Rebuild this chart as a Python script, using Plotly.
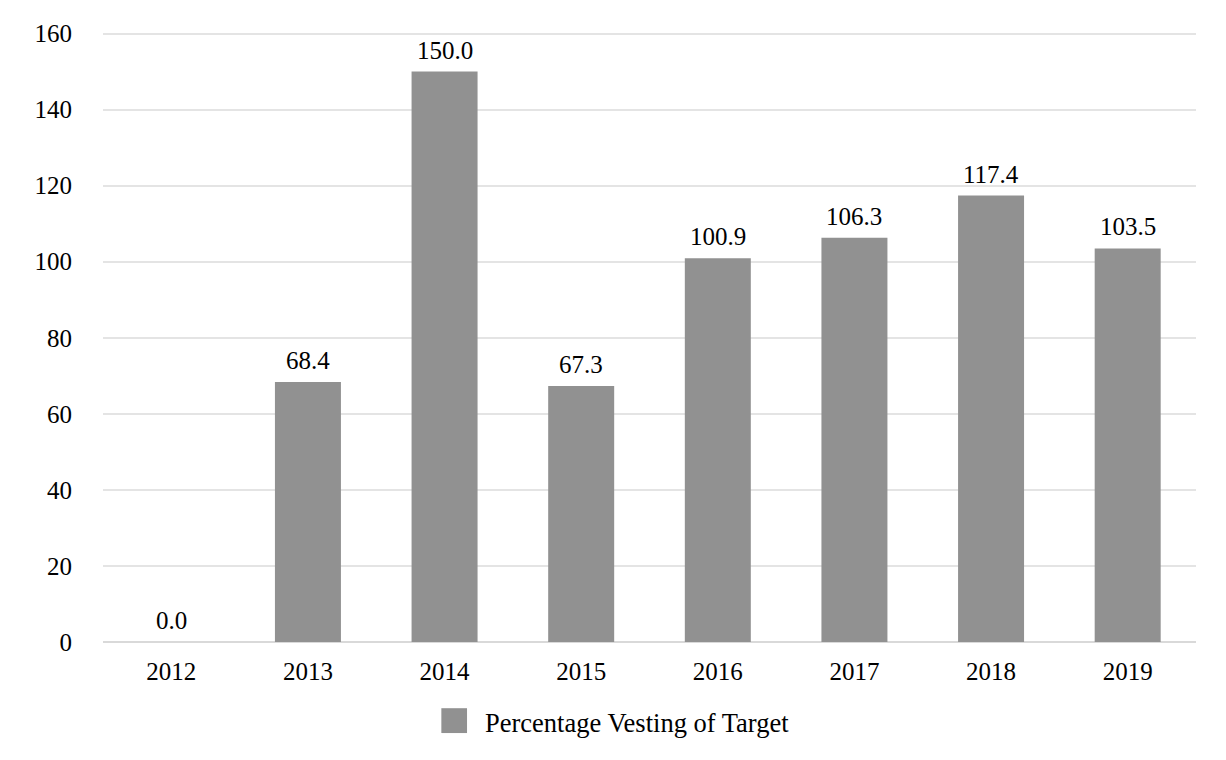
import plotly.graph_objects as go

years = ["2012", "2013", "2014", "2015", "2016", "2017", "2018", "2019"]
values = [0.0, 68.4, 150.0, 67.3, 100.9, 106.3, 117.4, 103.5]
labels = ["0.0", "68.4", "150.0", "67.3", "100.9", "106.3", "117.4", "103.5"]
series_name = "Percentage Vesting of Target"
y_ticks = [0, 20, 40, 60, 80, 100, 120, 140, 160]

FONT = "Liberation Serif, Times New Roman, serif"
BAR = "#919191"
FS = 25
LEG_FS = 26.5

W, H = 1226, 760
L, R, T, B = 94.5, 38, 20, 126.3
PW = W - L - R
PH = H - T - B


def px_x(px):
    return (px - L) / PW


def px_y(py):
    return (H - B - py) / PH


fig = go.Figure()
fig.add_trace(go.Bar(
    x=years, y=values,
    marker=dict(color=BAR, line=dict(width=0)),
    showlegend=False, name=series_name,
))

annotations = []
for i, (v, lab) in enumerate(zip(values, labels)):
    annotations.append(dict(
        x=i, y=v, xref="x", yref="y", text=lab, showarrow=False,
        yanchor="middle", xanchor="center", yshift=21.5,
        font=dict(family=FONT, size=FS, color="#000000"),
    ))

# manual legend (large square swatch)
annotations.append(dict(
    x=px_x(475), y=px_y(715), xref="paper", yref="paper",
    text=series_name, showarrow=False, xanchor="left", yanchor="middle",
    font=dict(family=FONT, size=LEG_FS, color="#000000"),
))
shapes = [dict(
    type="rect", xref="paper", yref="paper",
    x0=px_x(433), x1=px_x(458.7), y0=px_y(725.3), y1=px_y(700.3),
    fillcolor=BAR, line=dict(width=0),
)]

fig.update_layout(
    width=W, height=H,
    margin=dict(l=L, r=R, t=T, b=B, pad=0),
    paper_bgcolor="white", plot_bgcolor="white",
    font=dict(family=FONT, size=FS, color="#000000"),
    bargap=0.517,
    showlegend=False,
    annotations=annotations,
    shapes=shapes,
    xaxis=dict(
        type="category", categoryorder="array", categoryarray=years,
        range=[-0.5, len(years) - 0.5],
        showgrid=False, showline=False, ticks="",
        tickfont=dict(family=FONT, size=FS, color="#000000"),
        ticklabelstandoff=12,
    ),
    yaxis=dict(
        range=[0, 160.4], tickvals=y_ticks, showgrid=True,
        gridcolor="#e4e4e4", gridwidth=1.5, zeroline=True,
        zerolinecolor="#d9d9d9", zerolinewidth=2,
        showline=False, ticks="",
        tickfont=dict(family=FONT, size=FS, color="#000000"),
        ticklabelstandoff=30,
    ),
)

fig.write_html("out.html")
